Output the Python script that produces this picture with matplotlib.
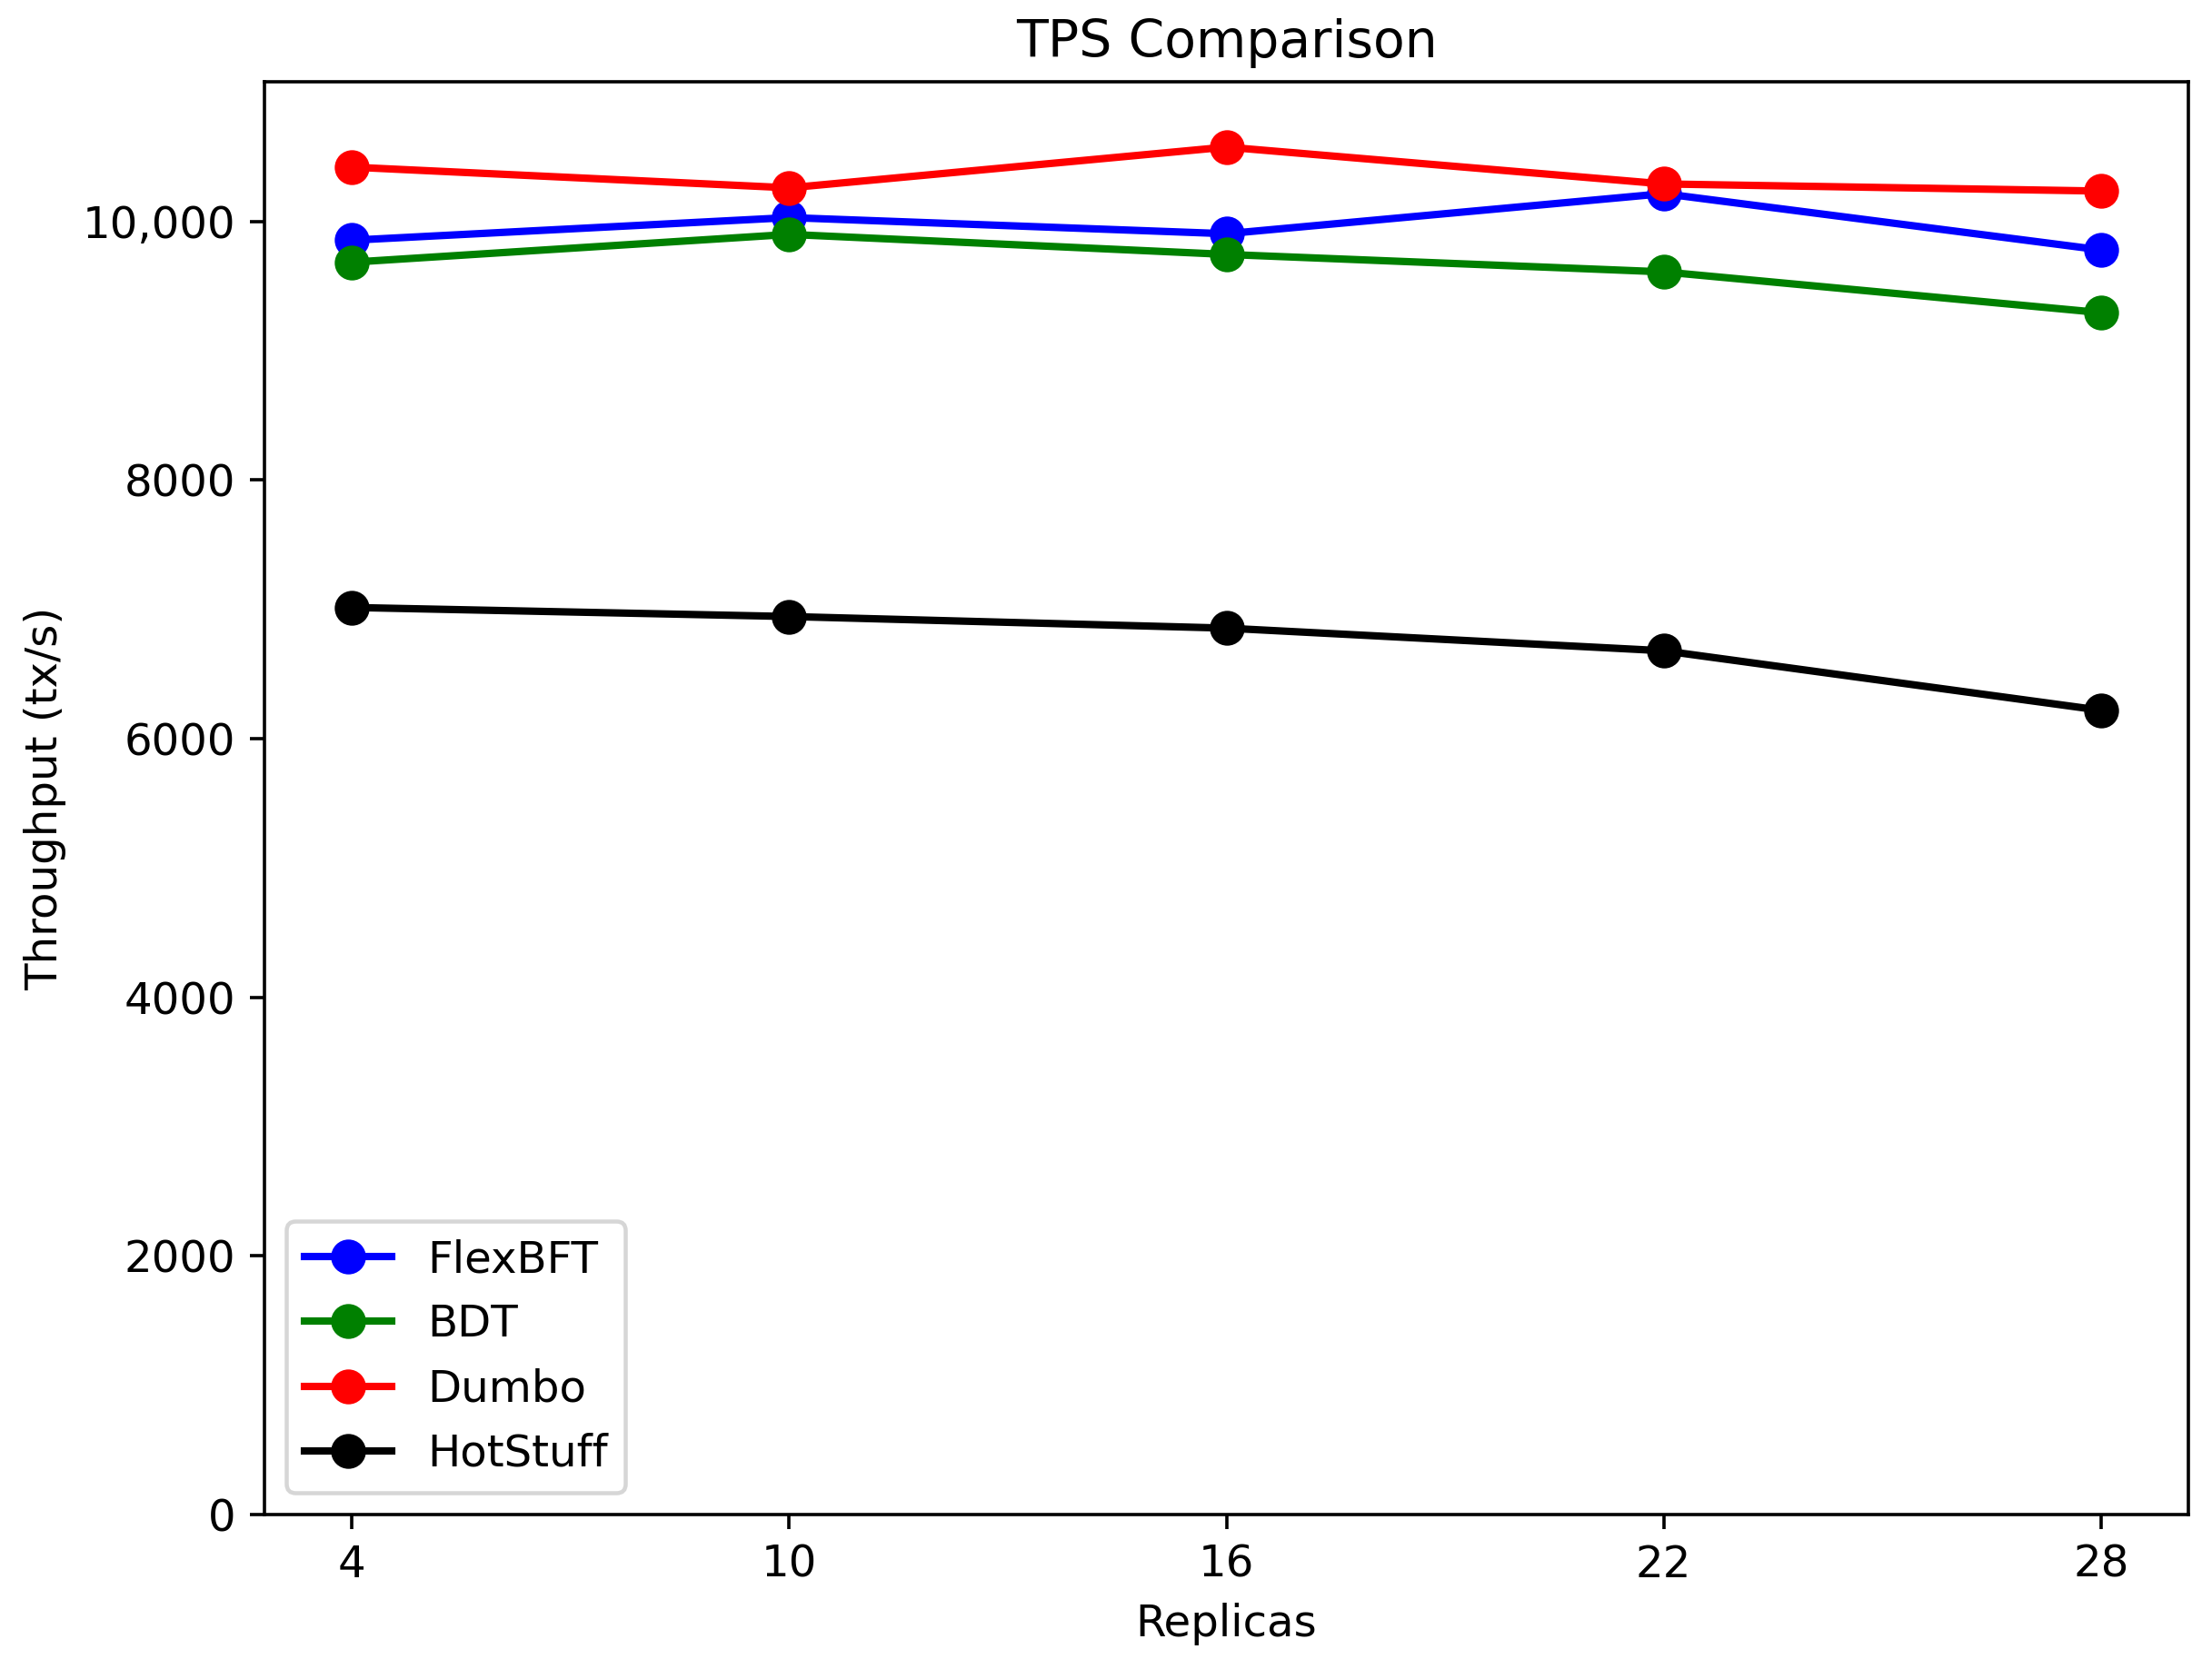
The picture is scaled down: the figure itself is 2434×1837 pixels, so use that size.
import matplotlib
matplotlib.use('Agg')
import matplotlib.pyplot as plt

replicas = [4, 10, 16, 22, 28]

flexbft = [9855, 10030, 9905, 10215, 9780]
bdt = [9685, 9900, 9745, 9610, 9295]
dumbo = [10420, 10260, 10575, 10290, 10235]
hotstuff = [7015, 6945, 6855, 6680, 6220]

y_ticks = [0, 2000, 4000, 6000, 8000, 10000]
y_tick_labels = ['0', '2000', '4000', '6000', '8000', '10,000']

plt.rcParams['font.size'] = 10.7

dpi = 325
fig = plt.figure(figsize=(2434 / dpi, 1837 / dpi), dpi=dpi)
ax = fig.add_axes([0.1196, 0.0925, 0.8697, 0.8585])

ax.plot(replicas, flexbft, color='blue', marker='o', markersize=7.5, linewidth=1.8, label='FlexBFT')
ax.plot(replicas, bdt, color='green', marker='o', markersize=7.5, linewidth=1.8, label='BDT')
ax.plot(replicas, dumbo, color='red', marker='o', markersize=7.5, linewidth=1.8, label='Dumbo')
ax.plot(replicas, hotstuff, color='black', marker='o', markersize=7.5, linewidth=1.8, label='HotStuff')

ax.set_xticks(replicas)
ax.set_yticks(y_ticks)
ax.set_yticklabels(y_tick_labels)
ax.set_ylim(0, 11080)

ax.set_title('TPS Comparison', fontsize=12.6)
ax.set_xlabel('Replicas')
ax.set_ylabel('Throughput (tx/s)')
ax.legend(loc='lower left')

fig.savefig('out.png', dpi=dpi)
